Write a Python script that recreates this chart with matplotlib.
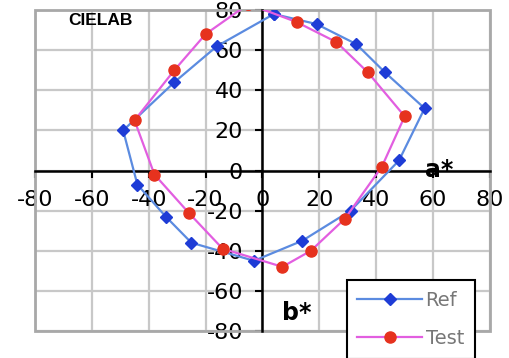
import matplotlib
matplotlib.use("Agg")
from matplotlib import pyplot as plt
from matplotlib.patches import Rectangle

plt.rcParams["axes.unicode_minus"] = False

# CIELAB a*/b* readings
ref_a = [4, 19, 33, 43, 57, 48, 31, 14, -3, -25, -34, -44, -49, -31, -16]
ref_b = [78, 73, 63, 49, 31, 5, -20, -35, -45, -36, -23, -7, 20, 44, 62]
test_a = [-5, 12, 26, 37, 50, 42, 29, 17, 7, -14, -26, -38, -45, -31, -20]
test_b = [83, 74, 64, 49, 27, 2, -24, -40, -48, -39, -21, -2, 25, 50, 68]
ticks = list(range(-80, 81, 20))

fig = plt.figure(figsize=(5.1, 3.58), dpi=100)
ax = fig.add_axes([0.0686, 0.0754, 0.8922, 0.8966])

ax.plot(ref_a + ref_a[:1], ref_b + ref_b[:1], color="#5b8be0", lw=1.6,
        marker="D", ms=6, mfc="#1e3cd6", mec="#1e3cd6", label="Ref", zorder=4)
ax.plot(test_a + test_a[:1], test_b + test_b[:1], color="#e25ee0", lw=1.6,
        marker="o", ms=8, mfc="#e6321e", mec="#e6321e", label="Test", zorder=5)

ax.set_xlim(-80, 80)
ax.set_ylim(-80, 80)
ax.set_xticks(ticks)
ax.set_yticks(ticks)
ax.grid(True, color="#c8c8c8", lw=1.6, zorder=0)
ax.set_axisbelow(True)

# axes crossing at the origin
ax.spines["left"].set_position("zero")
ax.spines["bottom"].set_position("zero")
ax.spines["top"].set_visible(False)
ax.spines["right"].set_visible(False)
for s in ["left", "bottom"]:
    ax.spines[s].set_linewidth(1.8)
    ax.spines[s].set_zorder(3)
ax.add_patch(Rectangle((0, 0), 1, 1, transform=ax.transAxes, fill=False,
                       edgecolor="#a8a8a8", lw=2, clip_on=False, zorder=2))

ax.tick_params(axis="x", length=5, width=1.5, pad=9, labelsize=16)
ax.tick_params(axis="y", length=5, width=1.5, pad=9, labelsize=16)

ax.text(-57, 75, "CIELAB", fontsize=12.5, fontweight="bold", ha="center", va="center",
        family="Liberation Sans")
ax.text(62, 0.5, "a*", fontsize=17, fontweight="bold", ha="center", va="center")
ax.text(12, -71, "b*", fontsize=17, fontweight="bold", ha="center", va="center")

leg = fig.legend(loc="upper left", bbox_to_anchor=(0.68, 0.218), fontsize=14,
                 handlelength=3.3, handletextpad=0.2, labelspacing=1.0,
                 borderpad=0.55, fancybox=False, framealpha=1,
                 edgecolor="black", borderaxespad=0)
leg.get_frame().set_linewidth(1.5)
for t in leg.get_texts():
    t.set_color("#777777")

plt.savefig("out.png", dpi=100)
